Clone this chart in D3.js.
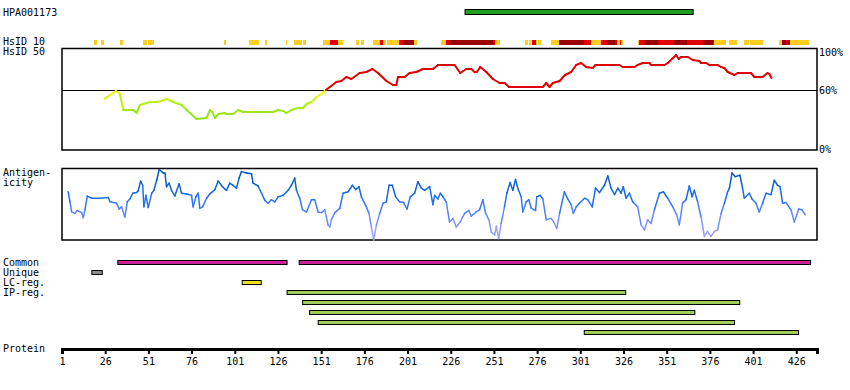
<!DOCTYPE html>
<html>
<head>
<meta charset="utf-8">
<script src="https://cdn.jsdelivr.net/npm/d3@7"></script>
<style>
  body { margin: 0; background: #fff; }
  text { font-family: "DejaVu Sans Mono", monospace; font-size: 10px; fill: #000; }
</style>
</head>
<body>
<div class="chart"></div>
<script>
// ---- data ----
const seqLength = 437;
const antibodyName = "HPA001173";
const antigenRegion = [234, 366];

// HsID 10 blocks: [start, end, level] level 1 = yellow, 2 = red, 3 = dark red
const hsid10Blocks = [
  [19.5,21.2,1],[23.6,25.1,1],[34.5,36.1,1],[47.8,50,1],[50.7,54,1],[94.5,95.7,1],
  [109.1,114.9,1],[118.4,119.9,1],[130.4,131.5,1],[135,139.8,1],[140.4,142.1,1],
  [151.9,156,1],[156,160.6,2],[160.6,163.5,1],[171,172.7,1],[173.9,175.6,1],
  [180.8,184.9,1],[184.9,186.6,2],[186.6,188.4,1],[188.9,195.9,1],[195.9,198.2,2],
  [198.2,204.5,3],[204.5,206.3,1],[220.2,223,1],[223,225.4,2],[225.4,250.2,3],
  [250.2,251.4,2],[251.4,254.3,1],[268.7,271,1],[271.3,272.2,1],[272.8,275.1,2],
  [275.1,275.7,1],[276.8,278,1],[283.8,288.4,1],[288.4,303.4,3],[303.4,306.9,2],
  [306.9,312.7,1],[312.7,316.7,2],[316.7,321.3,3],[321.3,322.5,2],[322.5,323.7,1],
  [323.7,324.8,2],[324.8,326,1],[334.6,335.2,1],[335.2,338.7,2],[338.7,346.2,3],
  [346.2,355.4,2],[355.4,362.9,3],[362.9,372.2,2],[372.2,377.9,3],[377.9,378.5,2],
  [378.5,385.4,1],[387.3,391.9,1],[395.9,398.8,1],[399.4,406.9,1],[416.2,417.9,1],
  [417.9,420.2,3],[420.2,421.4,2],[421.4,422.5,3],[422.5,433.5,1]
];

// HsID 50 identity (%) : [residue, percent]
const identity = [
  [25.5,51],[28.8,55],[32.2,59],[34.5,56],[36.5,40],[42.2,40],[44.2,37],[46.1,45],[51.9,48],
  [56.7,48],[61.5,51],[65.4,48],[70.2,45],[73.1,40],[78.9,31],[84.7,32],[86.6,40],[88.1,38],
  [89.5,32],[91.4,36],[95.3,37],[96.2,36],[100.1,36],[103,40],[105.8,38],[123.2,38],[126.1,40],
  [129,39],[130.9,37],[133.8,40],[137.6,42],[140.5,42],[142.5,46],[145.4,48],[148.3,53],
  [151.2,56],[153.7,60],[156,63],[159.8,68],[162.7,69],[165.6,73],[168.5,71],[173.3,77],
  [177.2,78],[180.7,81],[183.9,77],[188.8,69],[192.6,65],[194.5,65],[195.5,73],[199.3,73],
  [202.2,77],[206.1,78],[209.9,81],[215.7,81],[218.6,85],[228.2,85],[231.5,77],[235,81],
  [237.9,81],[239.8,78],[241.1,78],[243.1,83],[246.6,78],[250.4,71],[254.3,67],[257.2,67],
  [259.7,63],[279.3,63],[281.3,67],[283.2,63],[285.1,67],[289,69],[292.2,75],[295.7,78],
  [298.6,85],[301.5,87],[304.4,83],[308.2,82],[309.8,85],[323.6,85],[325.6,83],[332.3,83],
  [334.2,85],[337.1,87],[341,87],[342,85],[349.7,85],[351.6,87],[356.5,95],[358,91],
  [359.3,93],[363.2,93],[366.1,90],[369.9,89],[370.9,87],[373.8,87],[375.7,85],[380.5,85],
  [382.4,83],[384.4,82],[386.3,78],[390.2,75],[392.1,77],[399.8,77],[401.7,73],[406.5,73],
  [409.4,77],[410.4,76],[411.7,72]
];

// antigenicity score (0-100) : [residue, score]
const antigenicity = [
  [4.6,67],[5.6,53],[6.6,39],[8.5,37],[9.8,41],[12.4,38],[13.3,31],[14.3,42],[15.6,61],
  [18.2,58],[23,58],[27.8,59],[28.8,53],[32.6,51],[34.1,43],[35.5,46],[37.4,32],[38.8,53],
  [40.3,57],[41.9,65],[44.2,66],[45.1,68],[46.5,82],[47.7,76],[48.4,46],[49.6,62],[50.9,45],
  [52.9,65],[54.2,69],[55.8,83],[57.3,98],[59.6,93],[60.6,93],[61.5,74],[63,79],[64.4,69],
  [66.3,61],[67.3,68],[68.8,78],[70.2,65],[73.1,64],[76,62],[76.9,46],[78.5,60],[79.8,65],
  [80.8,44],[82.4,46],[84.7,58],[86.6,64],[89.5,70],[91.4,82],[93.9,74],[96.2,69],[98.1,79],
  [100,76],[102,72],[103.5,86],[104.9,95],[107.8,93],[110.7,92],[111.6,79],[114.5,75],
  [116.5,65],[118.4,55],[120.3,51],[122.2,56],[124.2,53],[126.1,60],[129,62],[131.9,69],
  [133.8,76],[135.7,86],[136.7,69],[138.6,58],[140.2,42],[142.5,39],[145.4,56],[147.3,56],
  [149.2,39],[151.2,38],[153.1,42],[155,21],[156,18],[156.9,28],[158.9,38],[161.8,44],
  [163.7,65],[166.6,67],[169.1,76],[171,70],[172.9,74],[174.3,60],[177.2,46],[178.7,37],
  [180.1,18],[181.4,0],[183,21],[184.9,37],[186.8,51],[188.7,53],[190.3,76],[192.2,76],
  [194.1,60],[196.4,53],[198.7,52],[200.7,43],[202.6,60],[205.1,65],[207,81],[209,72],
  [210.9,69],[213.8,74],[215.7,49],[216.7,62],[218.6,57],[220,65],[221.5,60],[223.4,53],
  [225.3,25],[227.3,30],[229.2,18],[231.5,25],[234,37],[236.5,41],[237.9,33],[240.8,39],
  [242.7,42],[244.6,56],[246.2,37],[248.1,28],[249.5,11],[251.4,7],[252.4,19],[253.7,2],
  [255.2,23],[257.1,46],[258.5,65],[260.4,80],[261.9,69],[263.5,84],[264.8,72],[266.8,60],
  [267.7,39],[269.7,53],[271.2,56],[272.6,44],[275.1,41],[275.8,60],[277.8,62],[279.3,57],
  [281.3,28],[284.1,30],[286.1,23],[287.4,16],[289,37],[291.8,67],[293.7,57],[295.7,49],
  [297,37],[298.6,46],[300.5,51],[303.4,58],[305.3,56],[307.9,46],[309.8,72],[312.1,66],
  [315,76],[316.9,89],[318.8,72],[320.8,63],[322.7,72],[324.6,65],[325.9,74],[327.5,58],
  [329.4,65],[331.3,53],[334.2,46],[336.2,21],[338.1,14],[340,28],[342,23],[343.9,42],
  [346.8,65],[349.1,67],[351.6,58],[354.5,46],[356.8,35],[358.3,21],[360.2,51],[362.2,56],
  [364.1,75],[365.7,60],[367,69],[368.9,53],[370.9,32],[372.8,5],[374.7,12],[376.7,5],
  [378.6,12],[380.5,14],[382.5,37],[384.4,51],[386.3,67],[387.3,72],[388.8,93],[390.7,88],
  [393.4,90],[394.9,72],[395.9,58],[398.8,65],[400.4,57],[402.7,51],[404.6,39],[406.5,51],
  [408.5,65],[411.4,63],[413.3,83],[415.2,76],[416.6,74],[418.1,51],[420.1,52],[422.9,42],
  [424.9,25],[427.4,43],[429.3,42],[431.2,35]
];

// feature tracks: [start, end]
const commonRegions = [[33,131],[138,434]];
const uniqueRegions = [[18,24]];
const lcRegions = [[105,116]];
const ipRegions = [[131,327],[140,393],[144,367],[149,390],[303,427]];

const axisTicks = d3.range(1, 427, 25);

// ---- layout ----
const width = 850, height = 390;
const left = 62, right = 817;

const svg = d3.select(".chart").append("svg")
    .attr("width", width)
    .attr("height", height);

const x = d3.scaleLinear().domain([1, seqLength + 1]).range([left, right]);

// labels on the left
const labels = [
  [antibodyName, 16], ["HsID 10", 45], ["HsID 50", 55], ["Antigen-", 176], ["icity", 186],
  ["Common", 266], ["Unique", 276], ["LC-reg.", 286], ["IP-reg.", 296], ["Protein", 352]
];
svg.selectAll("text.lbl").data(labels).enter().append("text")
    .attr("class", "lbl")
    .attr("x", 3)
    .attr("y", d => d[1])
    .text(d => d[0]);

// antigen bar at top
svg.append("rect")
    .attr("x", x(antigenRegion[0]) + 0.5)
    .attr("y", 9.5)
    .attr("width", x(antigenRegion[1]) - x(antigenRegion[0]))
    .attr("height", 5)
    .attr("fill", "#1ea01e")
    .attr("stroke", "#000")
    .attr("stroke-width", 1);

// HsID 10 row
const hsidColor = {1: "#ffcc22", 2: "#e00000", 3: "#990000"};
svg.append("g").selectAll("rect").data(hsid10Blocks).enter().append("rect")
    .attr("x", d => x(d[0]))
    .attr("y", 40)
    .attr("width", d => x(d[1]) - x(d[0]))
    .attr("height", 5)
    .attr("fill", d => hsidColor[d[2]])
    .attr("shape-rendering", "crispEdges");

// HsID 50 identity panel
const yId = d3.scaleLinear().domain([0, 100]).range([150, 50]);
const idPanel = svg.append("g");
idPanel.append("rect")
    .attr("x", left).attr("y", 48.5)
    .attr("width", right - left).attr("height", 101.5)
    .attr("fill", "none").attr("stroke", "#000").attr("stroke-width", 1.5);
idPanel.append("line")
    .attr("x1", left).attr("x2", right)
    .attr("y1", yId(60) + 0.5).attr("y2", yId(60) + 0.5)
    .attr("stroke", "#000").attr("stroke-width", 1);

const lowColor = d3.scaleLinear().domain([30, 45, 60])
    .range(["#88e01a", "#aaee11", "#ffff00"]).clamp(true);
const idSegs = d3.pairs(identity);
idPanel.selectAll("line.seg").data(idSegs).enter().append("line")
    .attr("class", "seg")
    .attr("x1", d => x(d[0][0])).attr("y1", d => yId(d[0][1]))
    .attr("x2", d => x(d[1][0])).attr("y2", d => yId(d[1][1]))
    .attr("stroke", d => {
      const m = (d[0][1] + d[1][1]) / 2;
      return m >= 60 ? "#e00000" : lowColor(m);
    })
    .attr("stroke-width", 2)
    .attr("stroke-linecap", "round");

[["100%", 56], ["60%", 94], ["0%", 153]].forEach(t => {
  idPanel.append("text").attr("x", right + 2).attr("y", t[1]).text(t[0]);
});

// antigenicity panel
const yAg = d3.scaleLinear().domain([0, 100]).range([240, 168]);
const agPanel = svg.append("g");
agPanel.append("rect")
    .attr("x", left).attr("y", 168.5)
    .attr("width", right - left).attr("height", 71.5)
    .attr("fill", "none").attr("stroke", "#000").attr("stroke-width", 1.5);

const agColor = d3.scaleLinear().domain([0, 30, 60, 100])
    .range(["#b4a4ff", "#6f8cff", "#1a6ef0", "#0050b0"]);
agPanel.selectAll("line.seg").data(d3.pairs(antigenicity)).enter().append("line")
    .attr("class", "seg")
    .attr("x1", d => x(d[0][0])).attr("y1", d => yAg(d[0][1]))
    .attr("x2", d => x(d[1][0])).attr("y2", d => yAg(d[1][1]))
    .attr("stroke", d => agColor((d[0][1] + d[1][1]) / 2))
    .attr("stroke-width", 1.5)
    .attr("stroke-linecap", "round");

// feature tracks
function track(data, y0, color) {
  svg.append("g").selectAll("rect").data(data).enter().append("rect")
      .attr("x", d => x(d[0]) + 0.5)
      .attr("y", y0 + 0.5)
      .attr("width", d => x(d[1]) - x(d[0]))
      .attr("height", 4)
      .attr("fill", color)
      .attr("stroke", "#000")
      .attr("stroke-width", 1);
}
track(commonRegions, 260, "#cc2299");
track(uniqueRegions, 270, "#8c8c8c");
track(lcRegions, 280, "#eedd22");
ipRegions.forEach((r, i) => track([r], 290 + i * 10, "#a0cc5a"));

// protein axis
const xAxis = d3.axisBottom(x)
    .tickValues(axisTicks)
    .tickSize(5)
    .tickSizeOuter(5)
    .tickFormat(d3.format("d"));

const axisG = svg.append("g")
    .attr("transform", "translate(0, 349)")
    .call(xAxis);
axisG.select(".domain").attr("stroke-width", 3).attr("stroke", "#000");
axisG.selectAll(".tick line").attr("stroke-width", 2).attr("stroke", "#000");
axisG.selectAll(".tick text")
    .attr("font-family", "DejaVu Sans Mono, monospace")
    .attr("font-size", 10)
    .attr("y", 9);
</script>
</body>
</html>
